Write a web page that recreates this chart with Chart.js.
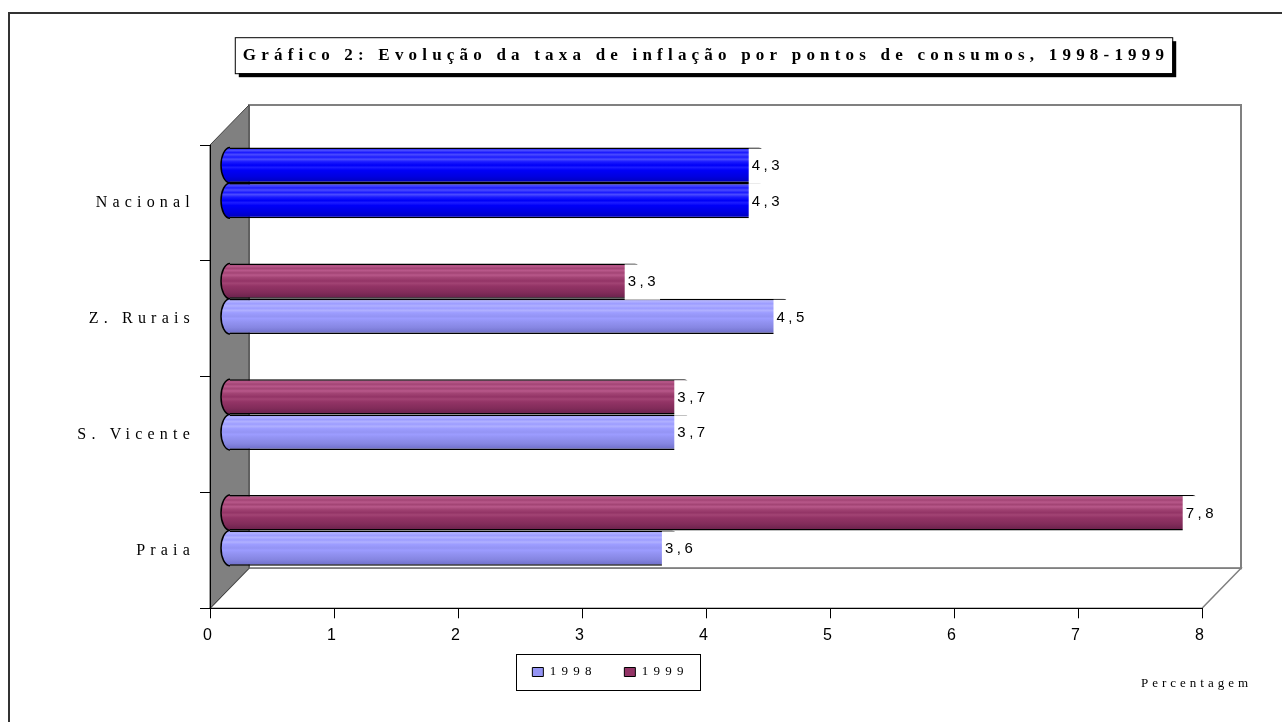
<!DOCTYPE html>
<html><head><meta charset="utf-8">
<script src="https://cdn.jsdelivr.net/npm/chart.js@4.4.0/dist/chart.umd.min.js"></script>
<style>html,body{margin:0;padding:0;background:#fff}#wrap{width:1282px;height:722px;position:relative}</style>
</head><body><div id="wrap"><canvas id="c" width="1282" height="722"></canvas></div>
<script>
const CATEGORIES = ['Nacional', 'Z. Rurais', 'S. Vicente', 'Praia'];
const SERIES_NAMES = ['1999', '1998'];
const VALUES_1999 = [4.3, 3.3, 3.7, 7.8];
const VALUES_1998 = [4.3, 4.5, 3.7, 3.6];
const X_MIN = 0, X_MAX = 8, X_STEP = 1;
const TITLE = 'Gráfico 2: Evolução da taxa de inflação por pontos de consumos, 1998-1999';
const X_TITLE = 'Percentagem';

const PAL = {
  blue: ['#1010f0', '#4a4aff', '#1c1cff', '#0000f8', '#0000e0', '#0000b8'],
  lav:  ['#9090f4', '#b0b0ff', '#9c9cff', '#9494f4', '#8686e2', '#6c6cc6'],
  mar:  ['#9c3c6e', '#b8588a', '#a24474', '#933466', '#822c5a', '#66204a']
};
const CAT_PCT = 0.61;
const DEPTH_X = 39, DEPTH_Y = -40;
const SP = '5.2px';
const TITLE_FONT = 17;
const LEGEND_CENTER_Y = 672;

function grad(ctx, top, h, p) {
  const g = ctx.createLinearGradient(0, top, 0, top + h);
  g.addColorStop(0, p[0]);
  g.addColorStop(0.08, p[1]); g.addColorStop(0.14, p[2]); g.addColorStop(0.2, p[1]);
  g.addColorStop(0.27, p[2]); g.addColorStop(0.33, p[1]); g.addColorStop(0.4, p[2]);
  g.addColorStop(0.5, p[3]); g.addColorStop(0.56, p[2]); g.addColorStop(0.64, p[3]);
  g.addColorStop(0.82, p[4]); g.addColorStop(1, p[5]);
  return g;
}
function palFor(di, i) { return i === 0 ? PAL.blue : (di === 0 ? PAL.mar : PAL.lav); }
function fillFor(c) {
  const pal = palFor(c.datasetIndex, c.dataIndex);
  const ys = c.chart.scales.y;
  if (c.dataIndex === undefined || !ys || ys.bottom === undefined) return pal[3];
  const n = c.chart.data.labels.length;
  const cat = (ys.bottom - ys.top) / n, bs = cat * CAT_PCT / 2;
  const top = ys.getPixelForValue(c.dataIndex) - cat * CAT_PCT / 2 + c.datasetIndex * bs;
  return grad(c.chart.ctx, top, bs, pal);
}
function fmt(v) { return String(v).replace('.', ','); }

const deco = {
  id: 'deco',
  beforeUpdate(chart) { chart.ctx.letterSpacing = SP; },
  beforeLayout(chart) { chart.ctx.letterSpacing = SP; },
  afterLayout(chart) {
    const lg = chart.legend;
    if (!lg) return;
    const pad = lg.options.labels.padding;
    const top = LEGEND_CENTER_Y - pad - lg.options.labels.font.size / 2;
    const h = lg.bottom - lg.top;
    lg.top = top; lg.bottom = top + h;
  },
  beforeDraw(chart) {
    const ctx = chart.ctx, a = chart.chartArea;
    ctx.letterSpacing = SP;
    ctx.save();
    ctx.strokeStyle = '#333'; ctx.lineWidth = 2;
    ctx.beginPath(); ctx.moveTo(9, chart.height); ctx.lineTo(9, 13); ctx.lineTo(chart.width, 13); ctx.stroke();
    const tb = chart.titleBlock;
    ctx.font = 'bold ' + TITLE_FONT + 'px "Liberation Serif"';
    const w = ctx.measureText(TITLE).width;
    const cx = (tb.left + tb.right) / 2, cy = tb.top + 32 + TITLE_FONT * 0.6;
    const x0 = cx - w / 2 - 8, x1 = cx + w / 2 + 3, y0 = cy - 18, y1 = cy + 18;
    ctx.fillStyle = '#000'; ctx.fillRect(x0 + 4, y0 + 4, x1 - x0, y1 - y0);
    ctx.fillStyle = '#fff'; ctx.fillRect(x0, y0, x1 - x0, y1 - y0);
    ctx.lineWidth = 1; ctx.strokeStyle = '#000'; ctx.strokeRect(x0 + 0.5, y0 + 0.5, x1 - x0, y1 - y0);
    const L = a.left, R = a.right, T = a.top, B = a.bottom;
    ctx.fillStyle = '#fff'; ctx.strokeStyle = '#808080'; ctx.lineWidth = 2;
    ctx.fillRect(L + DEPTH_X, T + DEPTH_Y, R - L, B - T);
    ctx.strokeRect(L + DEPTH_X, T + DEPTH_Y, R - L, B - T);
    ctx.lineWidth = 1.5;
    ctx.beginPath(); ctx.moveTo(L, B); ctx.lineTo(L + DEPTH_X, B + DEPTH_Y); ctx.lineTo(R + DEPTH_X, B + DEPTH_Y); ctx.lineTo(R, B); ctx.closePath();
    ctx.fill(); ctx.stroke();
    ctx.fillStyle = '#808080'; ctx.strokeStyle = '#404040'; ctx.lineWidth = 1;
    ctx.beginPath(); ctx.moveTo(L, T); ctx.lineTo(L + DEPTH_X, T + DEPTH_Y); ctx.lineTo(L + DEPTH_X, B + DEPTH_Y); ctx.lineTo(L, B); ctx.closePath();
    ctx.fill(); ctx.stroke();
    ctx.restore();
    ctx.letterSpacing = SP;
  },
  beforeDatasetsDraw(chart) {
    chart.ctx.save();
    chart.ctx.translate(DEPTH_X / 2, DEPTH_Y / 2);
  },
  afterDatasetsDraw(chart) {
    const ctx = chart.ctx;
    chart.data.datasets.forEach((ds, di) => {
      chart.getDatasetMeta(di).data.forEach((el) => {
        const p = el.getProps(['x', 'y', 'base', 'height'], true);
        ctx.beginPath();
        ctx.ellipse(p.base, p.y, 9, p.height / 2, 0, Math.PI / 2, Math.PI * 1.5);
        ctx.fillStyle = el.options.backgroundColor; ctx.fill();
        ctx.strokeStyle = '#000'; ctx.lineWidth = 1.5; ctx.stroke();
      });
    });
    ctx.font = '15px "Liberation Sans"'; ctx.letterSpacing = '3.5px'; ctx.textBaseline = 'middle'; ctx.textAlign = 'left';
    chart.data.datasets.forEach((ds, di) => {
      chart.getDatasetMeta(di).data.forEach((el, i) => {
        const p = el.getProps(['x', 'y', 'base', 'height'], true);
        const t = fmt(ds.data[i]);
        const tw = ctx.measureText(t).width;
        const bx = p.x - 14;
        ctx.fillStyle = '#fff'; ctx.fillRect(bx, p.y - p.height / 2 + 1, tw + 4, p.height);
        ctx.fillStyle = '#000'; ctx.fillText(t, bx + 3, p.y + 1);
      });
    });
    ctx.restore();
    ctx.letterSpacing = SP;
  },
  afterDraw(chart) {
    const ctx = chart.ctx, a = chart.chartArea;
    ctx.save();
    ctx.font = '13px "Liberation Serif"'; ctx.letterSpacing = '4px'; ctx.fillStyle = '#000';
    ctx.textBaseline = 'middle'; ctx.textAlign = 'left';
    ctx.fillText(X_TITLE, a.right - 61, 684);
    const hb = chart.legend.legendHitBoxes;
    if (hb && hb.length) {
      const last = hb[hb.length - 1];
      const x0 = hb[0].left - 16, x1 = last.left + last.width + 12;
      const cy = hb[0].top + hb[0].height / 2;
      ctx.strokeStyle = '#000'; ctx.lineWidth = 1;
      ctx.strokeRect(Math.round(x0) + 0.5, Math.round(cy - 18) + 0.5, Math.round(x1 - x0), 36);
    }
    ctx.restore();
  }
};

const barStyle = {
  backgroundColor: fillFor, borderColor: '#000', borderWidth: 1.5,
  borderSkipped: 'start', borderRadius: { topRight: 4, bottomRight: 4, topLeft: 0, bottomLeft: 0 },
  categoryPercentage: CAT_PCT, barPercentage: 1
};

new Chart(document.getElementById('c'), {
  type: 'bar',
  data: {
    labels: CATEGORIES,
    datasets: [
      Object.assign({ label: SERIES_NAMES[0], data: VALUES_1999 }, barStyle),
      Object.assign({ label: SERIES_NAMES[1], data: VALUES_1998 }, barStyle)
    ]
  },
  options: {
    indexAxis: 'y',
    responsive: false,
    animation: false,
    events: [],
    layout: { padding: { top: 13, left: 19, right: 80, bottom: 19 } },
    scales: {
      x: {
        min: X_MIN, max: X_MAX,
        ticks: { stepSize: X_STEP, color: '#000', padding: 8, font: { family: '"Liberation Sans"', size: 16 } },
        grid: { drawOnChartArea: false, tickLength: 10, color: '#000' },
        border: { color: '#000' },
        afterFit(s) { s.height = 44; }
      },
      y: {
        offset: true,
        ticks: { color: '#000', padding: 5, font: { family: '"Liberation Serif"', size: 16 } },
        grid: { offset: true, drawOnChartArea: false, tickLength: 10, color: '#000' },
        border: { color: '#000' },
        afterFit(s) { s.width = 191; }
      }
    },
    plugins: {
      colors: { enabled: false },
      tooltip: { enabled: false },
      title: {
        display: true, text: TITLE, fullSize: false, color: '#000',
        font: { family: '"Liberation Serif"', size: TITLE_FONT, weight: 'bold' },
        padding: { top: 32, bottom: 145 - 13 - 32 - TITLE_FONT * 1.2 }
      },
      legend: {
        position: 'bottom',
        labels: {
          boxWidth: 11, boxHeight: 9, padding: 27.7, color: '#000',
          font: { family: '"Liberation Serif"', size: 13 },
          generateLabels: () => [
            { text: SERIES_NAMES[1], fillStyle: PAL.lav[3], strokeStyle: '#000', lineWidth: 1, datasetIndex: 1, hidden: false },
            { text: SERIES_NAMES[0], fillStyle: PAL.mar[3], strokeStyle: '#000', lineWidth: 1, datasetIndex: 0, hidden: false }
          ]
        }
      }
    }
  },
  plugins: [deco]
});
</script></body></html>
